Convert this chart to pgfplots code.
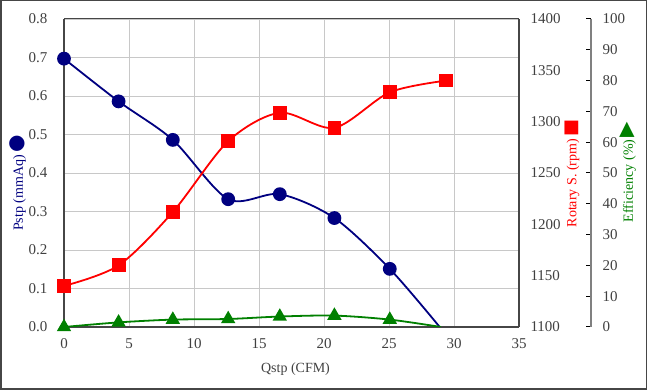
\documentclass[border=0pt]{standalone}
\usepackage{pgfplots}
\pgfplotsset{compat=1.18}
\usepackage{fontspec}
\setmainfont{Liberation Serif}
\newfontfamily\sym{DejaVu Sans}
\definecolor{pblue}{RGB}{0,0,128}
\definecolor{pgreen}{RGB}{0,128,0}
\definecolor{axgray}{RGB}{70,70,70}
\definecolor{gridgray}{RGB}{200,200,200}
\definecolor{txtgray}{RGB}{64,64,64}
\definecolor{effgray}{RGB}{128,128,128}
\newcommand{\fs}{\fontsize{14}{16}\selectfont}
\newcommand{\ft}{\fontsize{15}{17}\selectfont}
\begin{document}
\begin{tikzpicture}[x=1pt,y=1pt]
\draw[line width=1.5pt, axgray] (0.75,0.75) rectangle (646.25,389.25);
\pgfplotsset{every axis/.append style={scale only axis, at={(64pt,63pt)}, anchor=south west, height=308pt,
  font=\fs, tick label style={text=txtgray, font=\ft}, label style={font=\fs},
  /pgf/number format/assume math mode=true}}
\begin{axis}[width=455pt, xmin=0, xmax=35, ymin=0, ymax=0.8,
  xtick={0,5,10,15,20,25,30,35}, ytick={0,0.1,0.2,0.3,0.4,0.5,0.6,0.7,0.8},
  y tick label style={xshift=-13pt, /pgf/number format/fixed, /pgf/number format/fixed zerofill, /pgf/number format/precision=1},
  x tick label style={yshift=-8pt},
  grid=major, grid style={gridgray, line width=0.9pt},
  axis line style={axgray, line width=1.1pt}, major tick length=0pt,
  xlabel={Qstp (CFM)}, xlabel style={text=txtgray, yshift=-7pt, xshift=4pt},
  axis y line*=left, axis x line*=bottom]
\addplot[pblue, line width=1.8pt, smooth, tension=0.5, mark=*, mark size=6pt, mark indices={1,...,7}]
  coordinates {(0,0.697)(4.2,0.586)(8.37,0.486)(12.63,0.332)(16.6,0.345)(20.8,0.283)(25.06,0.151)(28.9,0)};
\draw[axgray, line width=1pt] (rel axis cs:0,1) -- (rel axis cs:1,1);
\end{axis}
\begin{axis}[width=455pt, xmin=0, xmax=35, ymin=1100, ymax=1400,
  ytick={1100,1150,1200,1250,1300,1350,1400}, axis y line*=right, axis x line=none,
  axis line style={axgray, line width=1.1pt}, major tick length=0pt,
  y tick label style={xshift=8pt, /pgf/number format/1000 sep={}}]
\addplot[red, line width=1.8pt, smooth, tension=0.5, mark=square*, mark size=6pt]
  coordinates {(0,1140)(4.2,1160)(8.37,1212)(12.63,1281)(16.6,1308.7)(20.8,1294)(25.06,1328.6)(29.4,1340)};
\end{axis}
\begin{axis}[width=527pt, xmin=0, xmax=40.538, ymin=0, ymax=100,
  ytick={0,10,20,30,40,50,60,70,80,90,100}, axis y line*=right, axis x line=none,
  axis line style={effgray, line width=1.1pt}, major tick length=5pt,
  tick style={black, line width=1pt}, tick align=inside, y tick label style={xshift=8pt}]
\addplot[pgreen, line width=1.8pt, smooth, tension=0.5, mark=triangle*, mark size=6.5pt, mark indices={1,...,7}]
  coordinates {(0,0)(4.2,1.5)(8.37,2.4)(12.63,2.6)(16.6,3.4)(20.8,3.7)(25.06,2.4)(29.0,0)};
\end{axis}
\node[rotate=90, text=pblue, font=\fs] at (18,207) {Pstp (mmAq)\,{\sym\fontsize{20}{20}\selectfont ●}};
\node[rotate=90, text=red, font=\fs] at (572,216.5) {Rotary S. (rpm)\,{\sym\fontsize{18}{18}\selectfont ■}};
\node[rotate=90, text=pgreen, font=\fs] at (628,218) {Efficiency (\%)\,{\sym\fontsize{20}{20}\selectfont ▶}};
\end{tikzpicture}
\end{document}
